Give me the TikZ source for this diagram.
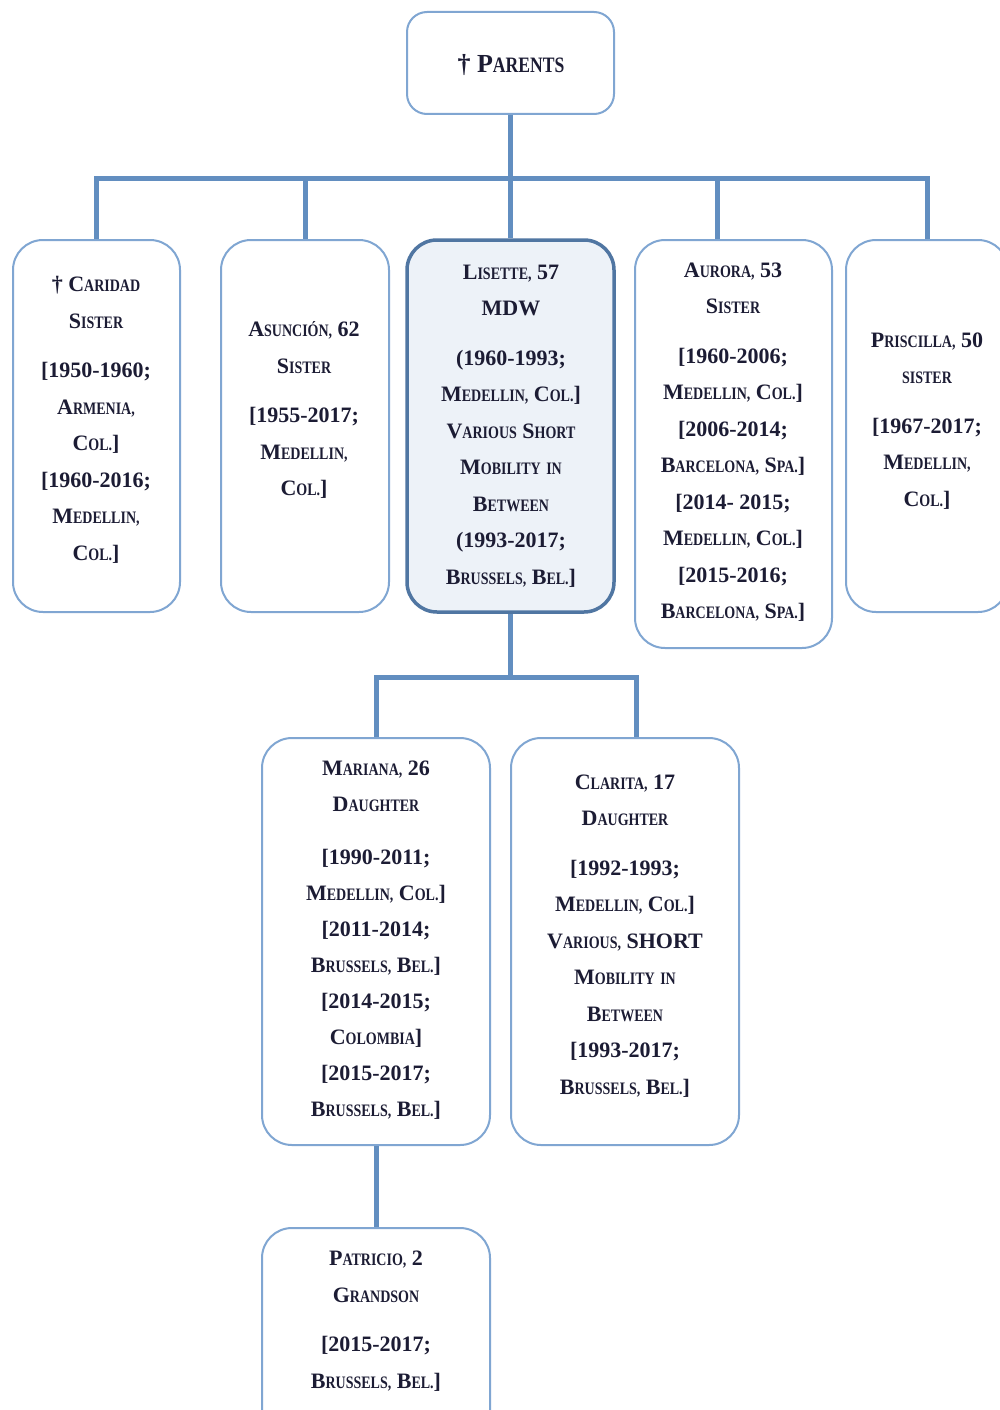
\documentclass[tikz,border=0pt]{standalone}
\usepackage{fontspec}
\setmainfont{Liberation Serif}
\newfontfamily\scfam{Liberation Serif}[FakeStretch=0.8]
\usetikzlibrary{calc}

\definecolor{boxline}{RGB}{128,166,210}
\definecolor{keyline}{RGB}{80,118,162}
\definecolor{keyfill}{RGB}{237,242,248}
\definecolor{connline}{RGB}{98,142,192}
\definecolor{ink}{RGB}{28,28,52}

% small-caps imitation: first letter full size, the rest upper case, condensed and smaller
\newcommand\smcsize{\scfam\fontsize{17.5}{17.5}\selectfont}
\def\capword#1#2\relax{#1{\smcsize\MakeUppercase{#2}}}
\newcommand\sw[1]{\capword#1\relax}
\newcommand\gap{\\[13pt]}

\tikzset{
  person/.style={draw=boxline, line width=2pt, fill=white, rounded corners=30pt,
    inner sep=0pt},
  keyperson/.style={person, draw=keyline, line width=3.5pt, fill=keyfill},
  txt/.style={align=center, text=ink, inner sep=0pt,
    font=\bfseries\fontsize{22}{36.5}\selectfont},
  conn/.style={draw=connline, line width=5pt},
}

\begin{document}
\begin{tikzpicture}[x=1pt,y=-1pt]
\useasboundingbox (0,0) rectangle (1000,1410);
\clip (0,0) rectangle (1000,1410);
\fill[white] (0,0) rectangle (1000,1410);

% boxes
\node[person, rounded corners=20pt, minimum width=207pt, minimum height=102pt] (parents) at (510.5,63) {};
\node[person, minimum width=167pt, minimum height=372pt] (caridad) at (96.5,426) {};
\node[person, minimum width=168pt, minimum height=372pt] (asuncion) at (305,426) {};
\node[keyperson, minimum width=207pt, minimum height=372pt] (lisette) at (510.5,426) {};
\node[person, minimum width=197pt, minimum height=408pt] (aurora) at (733.5,444) {};
\node[person, minimum width=162pt, minimum height=372pt] (priscilla) at (927,426) {};
\node[person, minimum width=228pt, minimum height=407pt] (mariana) at (376,941.5) {};
\node[person, minimum width=228pt, minimum height=407pt] (clarita) at (625,941.5) {};
\node[person, minimum width=228pt, minimum height=240pt] (patricio) at (376,1348) {};

% connectors
\coordinate (bar1) at (0,178);
\coordinate (bar2) at (0,677);
\coordinate (aurora-in) at ($(aurora.north west)+(83,0)$);
\coordinate (clarita-in) at ($(clarita.north east)+(-104,0)$);
\draw[conn] (parents.south) -- (parents.south |- bar1);
\draw[conn] (caridad.north) -- (caridad.north |- bar1) -- (priscilla.north |- bar1) -- (priscilla.north);
\draw[conn] (asuncion.north |- bar1) -- (asuncion.north);
\draw[conn] (lisette.north |- bar1) -- (lisette.north);
\draw[conn] (aurora-in |- bar1) -- (aurora-in);
\draw[conn] (lisette.south) -- (lisette.south |- bar2);
\draw[conn] (mariana.north) -- (mariana.north |- bar2) -- (clarita-in |- bar2) -- (clarita-in);
\draw[conn] (mariana.south) -- (patricio.north);

% texts
\node[txt, font=\bfseries\fontsize{26}{30}\selectfont] (parents-t) at (511,65)
  {† P{\scfam\fontsize{22}{22}\selectfont ARENTS}};

\node[txt] (caridad-t) at (96,420)
  {† \sw{Caridad}\\ \sw{Sister}\gap {[}1950-1960;\\ \sw{Armenia,}\\ \sw{Col.}]\\
   {[}1960-2016;\\ \sw{Medellin,}\\ \sw{Col.}]};

\node[txt] (asuncion-t) at (304,410)
  {\sw{Asunción,} 62\\ \sw{Sister}\gap {[}1955-2017;\\ \sw{Medellin,}\\ \sw{Col.}]};

\node[txt] (lisette-t) at (511,426)
  {\sw{Lisette,} 57\\ MDW\gap (1960-1993;\\ \sw{Medellin,} \sw{Col.}]\\
   \sw{Various} \sw{Short}\\ \sw{Mobility} {\smcsize IN}\\ \sw{Between}\\
   (1993-2017;\\ \sw{Brussels,} \sw{Bel.}]};

\node[txt] (aurora-t) at (733,442)
  {\sw{Aurora,} 53\\ \sw{Sister}\gap {[}1960-2006;\\ \sw{Medellin,} \sw{Col.}]\\
   {[}2006-2014;\\ \sw{Barcelona,} \sw{Spa.}]\\ {[}2014- 2015;\\ \sw{Medellin,} \sw{Col.}]\\
   {[}2015-2016;\\ \sw{Barcelona,} \sw{Spa.}]};

\node[txt] (priscilla-t) at (927,421)
  {\sw{Priscilla,} 50\\ {\smcsize SISTER}\gap {[}1967-2017;\\ \sw{Medellin,}\\ \sw{Col.}]};

\node[txt, font=\bfseries\fontsize{22}{36}\selectfont] (mariana-t) at (376,940)
  {\sw{Mariana,} 26\\ \sw{Daughter}\\[17pt] {[}1990-2011;\\ \sw{Medellin,} \sw{Col.}]\\
   {[}2011-2014;\\ \sw{Brussels,} \sw{Bel.}]\\ {[}2014-2015;\\ \sw{Colombia}]\\
   {[}2015-2017;\\ \sw{Brussels,} \sw{Bel.}]};

\node[txt] (clarita-t) at (625,936)
  {\sw{Clarita,} 17\\ \sw{Daughter}\gap {[}1992-1993;\\ \sw{Medellin,} \sw{Col.}]\\
   \sw{Various,} SHORT\\ \sw{Mobility} {\smcsize IN}\\ \sw{Between}\\
   {[}1993-2017;\\ \sw{Brussels,} \sw{Bel.}]};

\node[txt] (patricio-t) at (376,1321)
  {\sw{Patricio,} 2\\ \sw{Grandson}\gap {[}2015-2017;\\ \sw{Brussels,} \sw{Bel.}]};
\end{tikzpicture}
\end{document}
